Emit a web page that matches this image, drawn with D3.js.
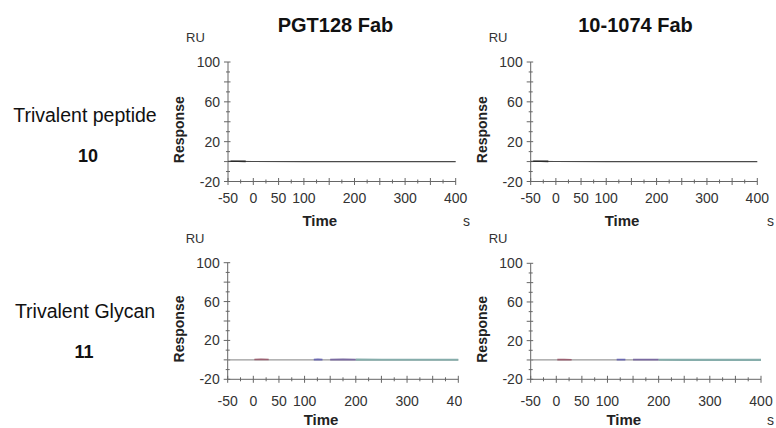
<!DOCTYPE html>
<html>
<head>
<meta charset="utf-8">
<script src="https://cdn.jsdelivr.net/npm/d3@7"></script>
<style>
	body { margin: 0; background: #fff; }
	svg { display: block; font-family: "Liberation Sans", Arial, sans-serif; }
</style>
</head>
<body>
<script>
// column titles and row labels
const colTitles = ["PGT128 Fab", "10-1074 Fab"];
const rowNames = ["Trivalent peptide", "Trivalent Glycan"];
const rowNumbers = ["10", "11"];

// axis ticks
const xTickLabels = [-50, 0, 50, 100, 200, 300, 400];
const yTickLabels = [100, 60, 20, -20];
const xDomain = [-50, 400];
const yDomain = [-20, 100];

// sensorgrams, trivalent peptide (both Fabs look the same)
const pepTime = [-50, 0, 100, 200, 300, 400];
const pepResp = [0.2, 0.1, 0, 0, 0, 0];
const pepStartTime = [-45, -30, -15];
const pepStartResp = [0.3, 0.4, 0.2];

// sensorgrams, trivalent glycan
const glyBaseTime = [-50, 0, 100, 200, 300, 400];
const glyBaseResp = [0, 0, 0, 0, 0, 0];
const glyRedTime = [2, 15, 30];
const glyRedResp = [0.4, 0.5, 0.3];
const glyBlueTime = [118, 126, 135];
const glyBlueResp = [0.3, 0.4, 0.3];
const glyPurpleTime = [150, 175, 200];
const glyPurpleResp = [0.3, 0.4, 0.3];
const glyTealTime = [200, 250, 300, 350, 400];
const glyTealResp = [0.2, 0.1, 0.1, 0.1, 0.1];

const zip = (t, v) => t.map((d, i) => [d, v[i]]);

const pepSeries = [
	{color: "#4a4a4a", width: 1.2, pts: zip(pepTime, pepResp)},
	{color: "#2a2a2a", width: 1.6, pts: zip(pepStartTime, pepStartResp)}
];
const glySeries = [
	{color: "#9a9a9a", width: 1.3, pts: zip(glyBaseTime, glyBaseResp)},
	{color: "#9a6070", width: 1.6, pts: zip(glyRedTime, glyRedResp)},
	{color: "#6a68b0", width: 1.8, pts: zip(glyBlueTime, glyBlueResp)},
	{color: "#7a6aa0", width: 1.8, pts: zip(glyPurpleTime, glyPurpleResp)},
	{color: "#86adab", width: 2.2, pts: zip(glyTealTime, glyTealResp)}
];

const width = 776, height = 428;

const svg = d3.select("body").append("svg")
	.attr("width", width)
	.attr("height", height);

// panel frames (pixel extents of each plot area)
const panels = [
	{row: 0, col: 0, left: 228, right: 455.7, top: 62, bottom: 181.5, clip: 470, labelDy: 21, timeY: 226, series: pepSeries},
	{row: 0, col: 1, left: 530.7, right: 757.3, top: 62, bottom: 181.5, clip: null, labelDy: 21, timeY: 226, series: pepSeries},
	{row: 1, col: 0, left: 227.7, right: 458.3, top: 262.7, bottom: 379.3, clip: 462, labelDy: 27, timeY: 425, series: glySeries},
	{row: 1, col: 1, left: 530.7, right: 761, top: 263.3, bottom: 379.3, clip: null, labelDy: 27, timeY: 425, series: glySeries}
];

const axisColor = "#666";
const labelColor = "#333";

panels.forEach((p, i) => {
	if (p.clip) {
		svg.append("clipPath").attr("id", "clip" + i)
			.append("rect").attr("x", 0).attr("y", 0).attr("width", p.clip).attr("height", height);
	}
	const g = svg.append("g");
	if (p.clip) g.attr("clip-path", `url(#clip${i})`);

	const x = d3.scaleLinear().domain(xDomain).range([p.left, p.right]);
	const y = d3.scaleLinear().domain(yDomain).range([p.bottom, p.top]);

	// x axis: line, minor ticks every 25, major every 50
	g.append("line")
		.attr("x1", x(xDomain[0])).attr("x2", x(xDomain[1]))
		.attr("y1", y(yDomain[0])).attr("y2", y(yDomain[0]))
		.attr("stroke", axisColor).attr("stroke-width", 1);
	g.append("g").selectAll("line")
		.data(d3.range(-50, 401, 25))
		.join("line")
			.attr("x1", d => x(d)).attr("x2", d => x(d))
			.attr("y1", d => y(-20) - (d % 50 === 0 ? 3.5 : 2))
			.attr("y2", d => y(-20) + (d % 50 === 0 ? 3.5 : 2))
			.attr("stroke", axisColor);
	g.append("g")
			.attr("font-size", 14)
			.attr("fill", labelColor)
			.attr("text-anchor", "middle")
		.selectAll("text")
		.data(xTickLabels)
		.join("text")
			.attr("x", d => x(d))
			.attr("y", y(-20) + p.labelDy)
			.text(d => d);

	// y axis: line, minor ticks every 10, major every 20
	g.append("line")
		.attr("x1", x(xDomain[0])).attr("x2", x(xDomain[0]))
		.attr("y1", y(yDomain[0])).attr("y2", y(yDomain[1]))
		.attr("stroke", axisColor).attr("stroke-width", 1);
	g.append("g").selectAll("line")
		.data(d3.range(-20, 101, 10))
		.join("line")
			.attr("y1", d => y(d)).attr("y2", d => y(d))
			.attr("x1", d => x(-50) - (d % 20 === 0 ? 4 : 2))
			.attr("x2", d => x(-50) + (d % 20 === 0 ? 2.5 : 2))
			.attr("stroke", axisColor);
	g.append("g")
			.attr("font-size", 14)
			.attr("fill", labelColor)
			.attr("text-anchor", "end")
		.selectAll("text")
		.data(yTickLabels)
		.join("text")
			.attr("x", x(-50) - 8)
			.attr("y", d => y(d))
			.attr("dy", "0.36em")
			.text(d => d);

	// axis titles
	g.append("text")
		.attr("x", p.left - 42)
		.attr("y", p.top - 20)
		.attr("font-size", 13)
		.attr("fill", labelColor)
		.text("RU");
	g.append("text")
		.attr("transform", `translate(${p.left - 44},${(p.top + p.bottom) / 2 + 8}) rotate(-90)`)
		.attr("text-anchor", "middle")
		.attr("font-size", 14)
		.attr("font-weight", "bold")
		.attr("fill", "#222")
		.text("Response");
	g.append("text")
		.attr("x", (p.left + p.right) / 2 - 22)
		.attr("y", p.timeY)
		.attr("text-anchor", "middle")
		.attr("font-size", 15)
		.attr("font-weight", "bold")
		.attr("fill", "#222")
		.text("Time");
	g.append("text")
		.attr("x", p.col === 0 ? 463 : 767)
		.attr("y", p.timeY)
		.attr("font-size", 14)
		.attr("fill", labelColor)
		.text("s");

	// response curves
	const line = d3.line().x(d => x(d[0])).y(d => y(d[1]));
	g.append("g")
			.attr("fill", "none")
		.selectAll("path")
		.data(p.series)
		.join("path")
			.attr("stroke", d => d.color)
			.attr("stroke-width", d => d.width)
			.attr("d", d => line(d.pts));
});

// column titles
svg.append("g")
		.attr("font-size", 20)
		.attr("font-weight", "bold")
		.attr("text-anchor", "middle")
		.attr("fill", "#111")
	.selectAll("text")
	.data(colTitles)
	.join("text")
		.attr("x", (d, i) => [335.5, 635.5][i])
		.attr("y", 32)
		.text(d => d);

// row labels
const rowY = [121.5, 318];
svg.append("g")
		.attr("text-anchor", "middle")
		.attr("fill", "#111")
	.selectAll("g")
	.data(rowNames)
	.join("g")
		.call(g => g.append("text")
			.attr("x", 85)
			.attr("y", (d, i) => rowY[i])
			.attr("font-size", 19.5)
			.text(d => d))
		.call(g => g.append("text")
			.attr("x", (d, i) => [88, 84][i])
			.attr("y", (d, i) => rowY[i] + [40.5, 40][i])
			.attr("font-size", 18)
			.attr("font-weight", "bold")
			.text((d, i) => rowNumbers[i]));
</script>
</body>
</html>
